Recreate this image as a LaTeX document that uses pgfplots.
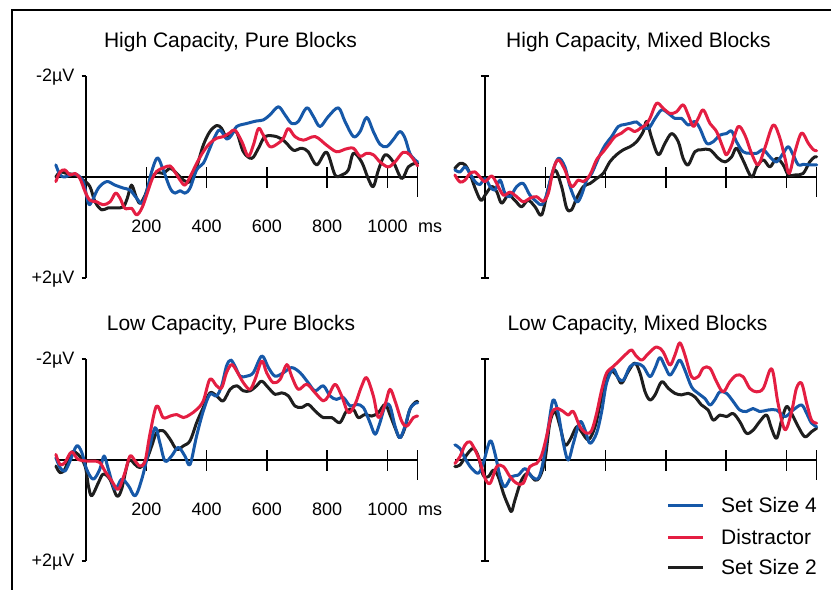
\documentclass[border=0pt]{standalone}
\usepackage{fontspec}
\setmainfont{Liberation Sans}
\usepackage{pgfplots}
\pgfplotsset{compat=1.18}
\definecolor{cblue}{RGB}{22,88,168}
\definecolor{cred}{RGB}{228,30,66}
\definecolor{cblack}{RGB}{30,30,30}
\tikzset{wave/.style={line width=3bp, smooth, tension=0.55, mark=none, line join=round, line cap=round}}
\pgfplotsset{erp/.style={scale only axis, width=361.8bp, height=202bp,
  xmin=-100, xmax=1100, ymin=-2, ymax=2, y dir=reverse, hide axis, clip=false}}
\tikzset{ax/.style={line width=1.6bp, black}}
\newcommand{\xaxisdraw}{%
  \draw[ax] (axis cs:-100,0) -- (axis cs:1100,0);
  \draw[ax] ([yshift=10bp]axis cs:200,0) -- ([yshift=-11bp]axis cs:200,0);
  \draw[ax] ([yshift=10bp]axis cs:400,0) -- ([yshift=-11bp]axis cs:400,0);
  \draw[ax] ([yshift=10bp]axis cs:600,0) -- ([yshift=-11bp]axis cs:600,0);
  \draw[ax] ([yshift=10bp]axis cs:800,0) -- ([yshift=-11bp]axis cs:800,0);
  \draw[ax] ([yshift=10bp]axis cs:1000,0) -- ([yshift=-11bp]axis cs:1000,0);
  \draw[ax] ([yshift=10bp]axis cs:1100,0) -- ([yshift=-20bp]axis cs:1100,0);
}
\newcommand{\yaxisleft}{%
  \draw[ax] (axis cs:0,-2) -- (axis cs:0,2);
  \draw[ax] ([xshift=-4.5bp]axis cs:0,-2) -- (axis cs:0,-2);
  \draw[ax] ([xshift=-4.5bp]axis cs:0,2) -- (axis cs:0,2);
  \node[anchor=base east, font=\fontsize{18bp}{20bp}\selectfont, xshift=-8bp, yshift=-5.5bp] at (axis cs:0,-2) {-2µV};
  \node[anchor=base east, font=\fontsize{18bp}{20bp}\selectfont, xshift=-8bp, yshift=-5.5bp] at (axis cs:0,2) {+2µV};
}
\newcommand{\yaxisboth}{%
  \draw[ax] (axis cs:0,-2) -- (axis cs:0,2);
  \draw[ax] ([xshift=-4.2bp]axis cs:0,-2) -- ([xshift=4.2bp]axis cs:0,-2);
  \draw[ax] ([xshift=-4.2bp]axis cs:0,2) -- ([xshift=4.2bp]axis cs:0,2);
}
\newcommand{\xlabels}{%
  \node[anchor=base, font=\fontsize{18bp}{20bp}\selectfont, yshift=-55bp] at (axis cs:200,0) {200};
  \node[anchor=base, font=\fontsize{18bp}{20bp}\selectfont, yshift=-55bp] at (axis cs:400,0) {400};
  \node[anchor=base, font=\fontsize{18bp}{20bp}\selectfont, yshift=-55bp] at (axis cs:600,0) {600};
  \node[anchor=base, font=\fontsize{18bp}{20bp}\selectfont, yshift=-55bp] at (axis cs:800,0) {800};
  \node[anchor=base, font=\fontsize{18bp}{20bp}\selectfont, yshift=-55bp] at (axis cs:1000,0) {1000};
  \node[anchor=base west, inner xsep=0pt, font=\fontsize{18bp}{20bp}\selectfont, yshift=-55bp] at (axis cs:1101,0) {ms};
}
\begin{document}
\begin{tikzpicture}
\useasboundingbox (0,0) rectangle (831bp,-590bp);
\draw[line width=1.8bp] (12bp,-592bp) -- (12bp,-10bp) -- (833bp,-10bp);
\tikzset{ttl/.style={anchor=base, font=\fontsize{21bp}{24bp}\selectfont, inner sep=0pt}}
\node[ttl] at (230.5bp,-47.7bp) {High Capacity, Pure Blocks};
\node[ttl] at (638.5bp,-47.7bp) {High Capacity, Mixed Blocks};
\node[ttl] at (231bp,-330bp) {Low Capacity, Pure Blocks};
\node[ttl] at (637.5bp,-330bp) {Low Capacity, Mixed Blocks};

% ---------- Top left
\begin{axis}[erp, at={(55.85bp,-278bp)}, anchor=south west]
\xaxisdraw
\yaxisleft
\xlabels
\addplot[wave, cblack] coordinates {(-100,0)(-86,-0.1)(-64,-0.07)(-36,-0.04)(-9,0.06)(13,0.19)(30,0.49)(52,0.65)(74,0.61)(102,0.61)(124,0.59)(137,0.42)(151,0.16)(166,0.39)(179,0.52)(196,0.36)(212,0.09)(234,-0.09)(256,-0.07)(279,-0.17)(301,-0.07)(323,0.06)(345,0.09)(367,-0.2)(389,-0.63)(411,-0.9)(434,-1.02)(450,-0.96)(467,-0.77)(483,-0.87)(500,-0.88)(522,-0.5)(550,-0.37)(572,-0.57)(594,-0.8)(632,-0.8)(660,-0.7)(688,-0.53)(715,-0.57)(737,-0.5)(765,-0.24)(798,-0.49)(826,-0.04)(848,-0.04)(870,-0.14)(887,-0.47)(914,-0.3)(936,0.03)(953,0.19)(970,-0.14)(992,-0.44)(1019,-0.3)(1047,0.03)(1069,-0.2)(1091,-0.27)(1100,-0.27)};
\addplot[wave, cblue] coordinates {(-100,-0.24)(-86,-0.04)(-70,0)(-53,-0.04)(-31,-0.05)(-9,0.1)(8,0.52)(19,0.49)(41,0.22)(69,0.09)(96,0.16)(124,0.22)(146,0.26)(168,0.42)(185,0.52)(201,0.29)(218,-0.11)(237,-0.38)(256,-0.14)(279,0.22)(295,0.32)(312,0.27)(328,0.32)(345,0.22)(367,-0.14)(389,-0.27)(406,-0.5)(422,-0.73)(439,-0.92)(450,-0.9)(467,-0.75)(483,-0.83)(500,-1.0)(533,-1.06)(566,-1.11)(588,-1.13)(610,-1.23)(638,-1.39)(660,-1.23)(682,-1.06)(704,-1.1)(732,-1.37)(754,-1.2)(776,-1.0)(804,-1.2)(837,-1.37)(859,-1.1)(887,-0.8)(909,-0.9)(931,-1.18)(953,-0.9)(975,-0.65)(997,-0.6)(1019,-0.74)(1041,-0.9)(1058,-0.77)(1074,-0.47)(1091,-0.34)(1100,-0.3)};
\addplot[wave, cred] coordinates {(-100,0.09)(-86,-0.1)(-70,-0.14)(-53,-0.04)(-36,-0.07)(-20,0.03)(-3,0.29)(13,0.46)(35,0.49)(57,0.55)(80,0.49)(98,0.32)(113,0.42)(129,0.62)(151,0.62)(168,0.75)(185,0.62)(201,0.36)(218,0.06)(234,-0.11)(256,-0.18)(279,-0.22)(295,-0.1)(312,0.06)(328,0.16)(345,0)(367,-0.27)(389,-0.5)(411,-0.67)(434,-0.77)(456,-0.8)(478,-0.88)(494,-0.93)(517,-0.7)(538,-0.41)(555,-0.63)(572,-0.96)(588,-0.83)(610,-0.6)(638,-0.67)(655,-0.77)(671,-0.96)(693,-0.8)(721,-0.73)(760,-0.8)(798,-0.63)(831,-0.5)(859,-0.55)(887,-0.57)(909,-0.41)(931,-0.47)(953,-0.44)(975,-0.3)(1002,-0.2)(1025,-0.3)(1052,-0.49)(1074,-0.44)(1100,-0.22)};
\end{axis}

% ---------- Top right
\begin{axis}[erp, at={(454.85bp,-278bp)}, anchor=south west]
\xaxisdraw
\yaxisboth
\addplot[wave, cblack] coordinates {(-100,-0.17)(-83,-0.27)(-66,-0.24)(-50,-0.07)(-33,0.22)(-14,0.46)(0,0.36)(22,0.19)(39,0.29)(55,0.52)(77,0.36)(99,0.46)(121,0.59)(143,0.46)(166,0.59)(188,0.75)(210,0.22)(232,-0.14)(254,0.19)(271,0.62)(287,0.65)(304,0.42)(326,0.19)(348,0.13)(370,0.03)(392,-0.07)(414,-0.3)(436,-0.44)(459,-0.54)(481,-0.6)(503,-0.7)(525,-0.9)(536,-1.1)(553,-0.77)(575,-0.44)(597,-0.67)(619,-0.86)(641,-0.7)(657,-0.37)(674,-0.24)(696,-0.5)(718,-0.54)(746,-0.54)(774,-0.37)(796,-0.3)(818,-0.4)(834,-0.57)(856,-0.33)(884,0)(901,-0.2)(923,-0.34)(945,-0.2)(967,-0.37)(989,-0.24)(1006,-0.04)(1028,-0.04)(1055,-0.07)(1077,-0.3)(1094,-0.4)(1100,-0.4)};
\addplot[wave, cblue] coordinates {(-100,-0.14)(-83,-0.1)(-66,-0.2)(-50,-0.07)(-33,0.09)(-17,0.15)(0,0.03)(17,0.19)(33,0.26)(50,0.06)(66,0.32)(83,0.39)(105,0.19)(127,0.13)(149,0.36)(171,0.49)(188,0.55)(204,0.36)(221,-0.04)(243,-0.37)(265,-0.2)(282,0.19)(304,0.49)(320,0.36)(337,0.06)(354,-0.07)(376,-0.37)(398,-0.63)(420,-0.8)(442,-1.0)(464,-1.04)(486,-1.07)(503,-1.09)(520,-1.0)(542,-0.96)(564,-1.16)(586,-1.33)(608,-1.26)(630,-1.16)(652,-1.16)(674,-1.03)(696,-1.1)(713,-0.96)(735,-0.67)(757,-0.7)(779,-0.83)(801,-0.86)(818,-0.91)(834,-0.7)(856,-0.5)(878,-0.47)(901,-0.47)(923,-0.54)(945,-0.4)(967,-0.3)(989,-0.47)(1006,-0.6)(1022,-0.44)(1039,-0.24)(1055,-0.25)(1077,-0.24)(1100,-0.24)};
\addplot[wave, cred] coordinates {(-100,-0.04)(-83,0.1)(-66,0.06)(-50,-0.07)(-33,-0.1)(-17,0)(0,0.09)(22,-0.02)(39,0.13)(61,0.36)(83,0.3)(105,0.39)(127,0.49)(149,0.42)(171,0.39)(193,0.48)(210,0.32)(226,-0.14)(243,-0.34)(265,-0.14)(287,0.19)(309,0.06)(326,0.09)(348,-0.04)(370,-0.34)(392,-0.5)(414,-0.67)(431,-0.8)(453,-0.87)(475,-0.96)(497,-0.9)(514,-0.96)(530,-1.02)(547,-1.16)(569,-1.46)(591,-1.36)(613,-1.26)(635,-1.29)(657,-1.43)(674,-1.23)(691,-1.0)(707,-1.16)(724,-1.33)(746,-1.06)(768,-0.9)(790,-0.57)(801,-0.44)(818,-0.63)(840,-1.0)(862,-0.83)(884,-0.47)(906,-0.24)(928,-0.57)(956,-1.03)(978,-0.77)(995,-0.37)(1009,-0.07)(1028,-0.5)(1050,-0.87)(1072,-0.67)(1089,-0.54)(1100,-0.52)};
\end{axis}

% ---------- Bottom left
\begin{axis}[erp, at={(55.85bp,-561bp)}, anchor=south west]
\xaxisdraw
\yaxisleft
\xlabels
\addplot[wave, cblack] coordinates {(-100,0.12)(-86,0.25)(-70,0.18)(-48,-0.15)(-26,-0.11)(-3,0.12)(8,0.51)(19,0.71)(41,0.45)(57,0.28)(79,0.38)(102,0.71)(118,0.58)(141,0.02)(163,0.09)(179,0.15)(201,-0.01)(218,-0.28)(234,-0.54)(256,-0.58)(279,-0.41)(301,-0.21)(323,-0.28)(345,-0.38)(367,-0.74)(389,-1.04)(411,-1.33)(433,-1.27)(455,-1.17)(478,-1.4)(500,-1.47)(522,-1.37)(544,-1.37)(566,-1.47)(583,-1.56)(605,-1.43)(627,-1.3)(649,-1.33)(671,-1.27)(693,-1.07)(715,-1.04)(737,-1.1)(760,-0.97)(787,-0.84)(815,-0.84)(842,-0.74)(864,-0.97)(887,-1.0)(903,-0.84)(925,-0.9)(948,-0.87)(970,-0.94)(992,-1.1)(1008,-0.9)(1025,-0.64)(1041,-0.44)(1058,-0.64)(1074,-1.0)(1091,-1.14)(1100,-1.16)};
\addplot[wave, cblue] coordinates {(-100,-0.05)(-86,0.15)(-70,0.22)(-53,0.02)(-31,-0.28)(-14,-0.15)(2,0.18)(24,0.38)(46,0.18)(60,-0.08)(74,0.18)(96,0.58)(118,0.38)(141,0.51)(163,0.71)(185,0.38)(207,-0.15)(229,-0.64)(245,-0.34)(262,0.02)(284,-0.08)(306,-0.25)(328,-0.08)(345,0.09)(367,-0.48)(389,-0.97)(411,-1.3)(433,-1.27)(450,-1.47)(466,-1.86)(480,-1.98)(494,-1.86)(511,-1.66)(533,-1.66)(555,-1.73)(583,-2.06)(605,-1.83)(627,-1.66)(655,-1.73)(682,-1.83)(710,-1.73)(737,-1.53)(760,-1.37)(787,-1.47)(809,-1.27)(831,-1.2)(853,-1.24)(876,-1.07)(898,-1.1)(920,-1.04)(942,-0.74)(959,-0.51)(975,-0.74)(992,-1.07)(1008,-1.07)(1025,-0.67)(1041,-0.44)(1058,-0.67)(1074,-1.0)(1091,-1.12)(1100,-1.13)};
\addplot[wave, cred] coordinates {(-100,-0.11)(-86,0.09)(-70,0.05)(-48,-0.16)(-26,-0.01)(2,0.02)(24,0.02)(46,0.05)(63,0.22)(85,0.41)(107,0.58)(129,0.25)(146,-0.08)(163,0.02)(179,0.12)(196,0.02)(212,-0.51)(234,-1.07)(256,-0.84)(279,-0.87)(301,-0.9)(323,-0.84)(345,-0.9)(367,-1.0)(389,-1.17)(411,-1.6)(433,-1.47)(450,-1.43)(466,-1.73)(483,-1.89)(500,-1.76)(522,-1.53)(544,-1.4)(561,-1.6)(583,-1.96)(599,-1.73)(621,-1.53)(644,-1.6)(666,-1.89)(682,-1.66)(704,-1.4)(732,-1.5)(760,-1.33)(787,-1.17)(804,-1.27)(826,-1.5)(848,-1.27)(870,-0.94)(892,-1.1)(914,-1.46)(931,-1.63)(953,-1.27)(970,-0.84)(992,-1.1)(1008,-1.4)(1025,-1.17)(1047,-0.77)(1064,-0.67)(1086,-0.84)(1100,-0.87)};
\end{axis}

% ---------- Bottom right
\begin{axis}[erp, at={(454.85bp,-561bp)}, anchor=south west]
\xaxisdraw
\yaxisboth
\addplot[wave, cblack] coordinates {(-100,0.13)(-83,0.1)(-61,-0.1)(-39,-0.23)(-22,-0.07)(-6,0.3)(11,0.33)(28,0.2)(44,0.33)(61,0.66)(77,0.9)(88,1.02)(99,0.8)(121,0.4)(143,0.26)(166,0.4)(182,0.33)(199,0)(215,-0.73)(232,-0.96)(249,-0.66)(265,-0.3)(282,-0.4)(304,-0.66)(320,-0.56)(343,-0.4)(365,-0.66)(381,-1.09)(398,-1.58)(414,-1.78)(436,-1.68)(453,-1.52)(475,-1.75)(497,-1.92)(514,-1.72)(531,-1.35)(547,-1.19)(564,-1.29)(586,-1.55)(608,-1.42)(630,-1.32)(652,-1.29)(674,-1.32)(696,-1.25)(718,-1.09)(740,-0.99)(757,-0.79)(779,-0.89)(801,-0.86)(823,-0.92)(845,-0.76)(867,-0.53)(889,-0.59)(911,-0.76)(934,-0.89)(950,-0.63)(967,-0.43)(984,-0.79)(1000,-1.06)(1017,-0.92)(1039,-0.66)(1061,-0.46)(1083,-0.56)(1100,-0.63)};
\addplot[wave, cblue] coordinates {(-100,-0.3)(-83,-0.23)(-66,-0.03)(-44,0.17)(-22,0.26)(-6,0.07)(17,-0.38)(33,-0.13)(50,0.33)(66,0.53)(88,0.33)(110,0.3)(133,0.17)(155,0.33)(177,0.36)(193,0.03)(210,-0.65)(226,-1.19)(243,-0.92)(260,-0.33)(276,0)(293,-0.33)(315,-0.76)(332,-0.59)(348,-0.33)(370,-0.53)(387,-0.96)(403,-1.52)(425,-1.8)(442,-1.62)(459,-1.58)(481,-1.85)(503,-1.91)(525,-1.85)(547,-1.65)(564,-1.82)(580,-2.03)(597,-1.85)(613,-1.68)(630,-1.82)(646,-1.98)(663,-1.78)(685,-1.45)(707,-1.32)(729,-1.22)(746,-1.09)(762,-1.19)(779,-1.35)(801,-1.32)(823,-1.16)(845,-0.99)(867,-0.96)(889,-1.02)(911,-0.96)(939,-0.99)(967,-0.99)(995,-0.86)(1022,-0.99)(1050,-1.09)(1067,-0.92)(1083,-0.73)(1100,-0.66)};
\addplot[wave, cred] coordinates {(-100,0.07)(-83,-0.07)(-66,-0.3)(-50,-0.36)(-33,-0.2)(-17,0.03)(0,0.36)(17,0.46)(39,0.13)(61,0.13)(83,0.33)(105,0.46)(127,0.46)(149,0.13)(171,0.07)(188,-0.1)(204,-0.46)(221,-0.92)(238,-1.02)(260,-0.96)(276,-0.89)(293,-0.96)(315,-0.66)(337,-0.53)(354,-0.59)(370,-0.92)(387,-1.39)(403,-1.72)(425,-1.85)(448,-1.98)(470,-2.11)(486,-2.18)(500,-2.07)(520,-1.98)(542,-2.11)(569,-2.24)(591,-2.14)(613,-1.88)(630,-2.08)(646,-2.32)(663,-2.08)(685,-1.65)(707,-1.65)(724,-1.82)(746,-1.82)(768,-1.55)(790,-1.35)(812,-1.55)(834,-1.68)(856,-1.65)(878,-1.42)(901,-1.35)(923,-1.42)(945,-1.78)(956,-1.72)(972,-1.12)(995,-0.6)(1017,-0.96)(1033,-1.42)(1050,-1.52)(1067,-1.12)(1083,-0.79)(1100,-0.73)};
\end{axis}

% ---------- Legend
\tikzset{lg/.style={anchor=base west, inner xsep=0pt, font=\fontsize{21bp}{24bp}\selectfont}}
\draw[cblue, line width=3bp] (668bp,-505bp) -- (703bp,-505bp);
\node[lg] at (721bp,-512.5bp) {Set Size 4};
\draw[cred, line width=3bp] (668bp,-537bp) -- (703bp,-537bp);
\node[lg] at (721bp,-544.5bp) {Distractor};
\draw[cblack, line width=3bp] (668bp,-567bp) -- (703bp,-567bp);
\node[lg] at (721bp,-574.5bp) {Set Size 2};
\end{tikzpicture}
\end{document}
